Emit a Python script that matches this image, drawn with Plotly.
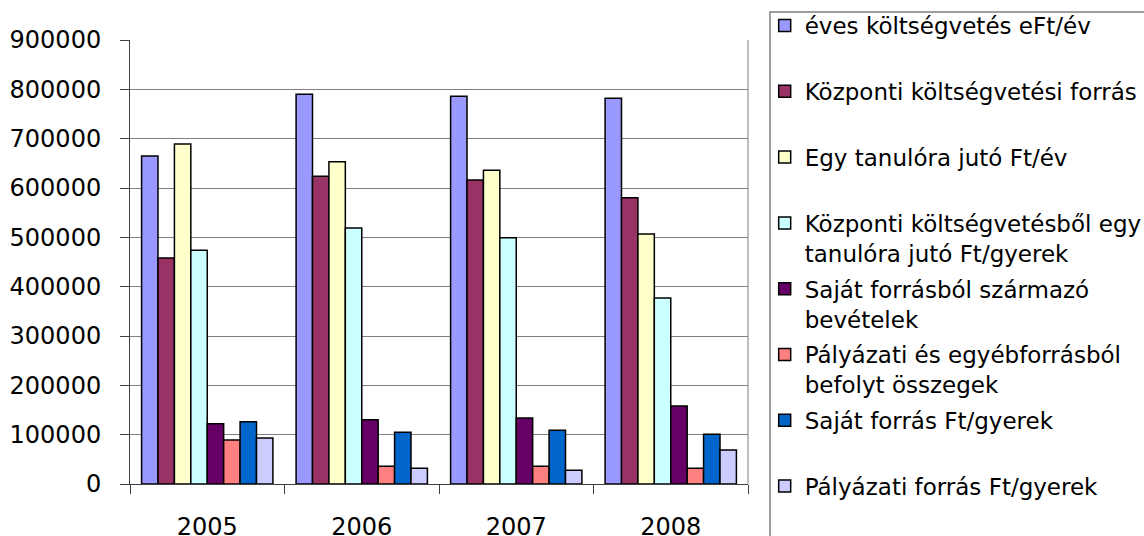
import plotly.graph_objects as go

years = ["2005", "2006", "2007", "2008"]
series_names = [
    "éves költségvetés eFt/év",
    "Központi költségvetési forrás",
    "Egy tanulóra jutó Ft/év",
    "Központi költségvetésből egy<br>tanulóra jutó Ft/gyerek",
    "Saját forrásból származó<br>bevételek",
    "Pályázati és egyébforrásból<br>befolyt összegek",
    "Saját forrás Ft/gyerek",
    "Pályázati forrás Ft/gyerek",
]
eves_koltsegvetes = [665000, 790000, 786000, 782000]
kozponti_forras = [458000, 624000, 616000, 580000]
egy_tanulora = [689000, 653000, 636000, 507000]
kozponti_egy_tanulora = [474000, 519000, 499000, 377000]
sajat_bevetelek = [122000, 130000, 134000, 158000]
palyazati_osszegek = [89000, 36000, 36000, 32000]
sajat_ft_gyerek = [126000, 105000, 109000, 101000]
palyazati_ft_gyerek = [93000, 32000, 28000, 69000]

series_values = [
    eves_koltsegvetes, kozponti_forras, egy_tanulora, kozponti_egy_tanulora,
    sajat_bevetelek, palyazati_osszegek, sajat_ft_gyerek, palyazati_ft_gyerek,
]
colors = ["#9999FF", "#993366", "#FFFFCC", "#CCFFFF",
          "#660066", "#FF8080", "#0066CC", "#CCCCFF"]
y_ticks = [0, 100000, 200000, 300000, 400000, 500000, 600000, 700000, 800000, 900000]

FONT = "DejaVu Sans, Liberation Sans, Arial, sans-serif"

fig = go.Figure()
for i, (name, vals, col) in enumerate(zip(series_names, series_values, colors)):
    label = name if "<br>" in name else name + "<br> "
    fig.add_trace(go.Bar(
        x=years, y=vals, name=label,
        marker=dict(color=col, line=dict(color="#000000", width=1.5)),
        legendgroup="g%d" % i,
    ))

fig.update_layout(
    width=1144, height=536,
    margin=dict(l=130, r=396, t=40, b=52, autoexpand=False),
    barmode="group", bargap=0.15, bargroupgap=0,
    plot_bgcolor="white", paper_bgcolor="white",
    font=dict(family=FONT, color="#000000"),
    showlegend=True,
    legend=dict(
        x=1.027, xanchor="left", y=1.081, yanchor="top",
        font=dict(family=FONT, size=23, color="#000000"),
        bgcolor="rgba(0,0,0,0)", borderwidth=0,
        tracegroupgap=3, valign="top", traceorder="grouped",
        maxheight=700,
    ),
    xaxis=dict(
        type="category", tickson="boundaries", ticks="outside", ticklen=9,
        tickcolor="#404040", showline=True, linecolor="#404040", linewidth=1,
        showgrid=False, tickfont=dict(family=FONT, size=24),
        ticklabelstandoff=21, automargin=False,
    ),
    yaxis=dict(
        range=[0, 900000], tickvals=y_ticks, tickformat="d",
        ticks="outside", ticklen=9, tickcolor="#404040",
        showline=True, linecolor="#404040", linewidth=1,
        showgrid=True, gridcolor="#808080", gridwidth=1, zeroline=False,
        tickfont=dict(family=FONT, size=24), ticklabelstandoff=14,
        automargin=False,
    ),
    shapes=[
        dict(type="line", xref="paper", yref="paper", x0=1, x1=1, y0=0, y1=1,
             line=dict(color="#808080", width=1)),
        dict(type="rect", xref="paper", yref="paper",
             x0=(770 - 130) / 618, x1=(1160 - 130) / 618,
             y0=(484 - 545) / 444, y1=(484 - 12) / 444,
             line=dict(color="#808080", width=1.5), fillcolor="rgba(0,0,0,0)",
             layer="above"),
    ],
)

fig.write_html("out.html")
